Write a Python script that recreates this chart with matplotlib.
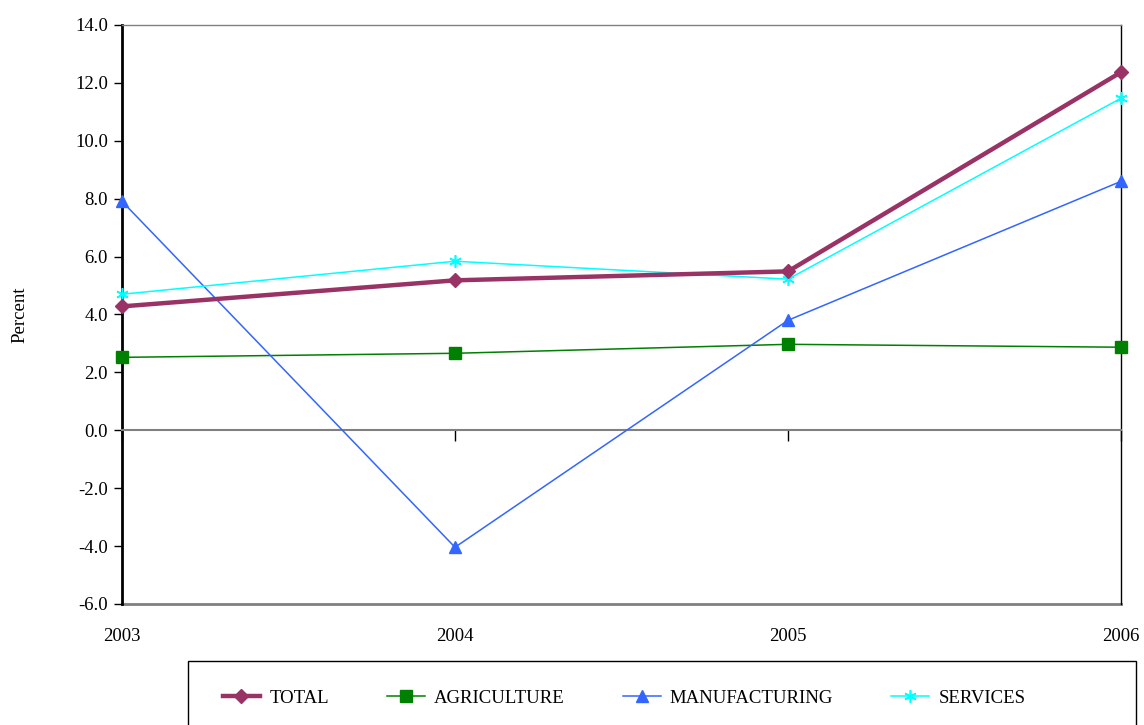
import matplotlib
matplotlib.use("Agg")
import matplotlib.pyplot as plt
from matplotlib.patches import Rectangle
from matplotlib.ticker import FormatStrFormatter

plt.rcParams['font.family'] = ['Liberation Serif', 'DejaVu Serif']
plt.rcParams['axes.unicode_minus'] = False

years = ['2003', '2004', '2005', '2006']
total = [4.28, 5.18, 5.49, 12.37]
agriculture = [2.52, 2.66, 2.97, 2.87]
manufacturing = [7.91, -4.04, 3.80, 8.60]
services = [4.70, 5.84, 5.22, 11.47]
yticks = [-6.0, -4.0, -2.0, 0.0, 2.0, 4.0, 6.0, 8.0, 10.0, 12.0, 14.0]

fig = plt.figure(figsize=(11.44, 7.25), dpi=100)
ax = fig.add_axes([122 / 1144, 1 - 604 / 725, (1121 - 122) / 1144, (604 - 25) / 725])

x = list(range(len(years)))
ax.plot(x, total, color='#993366', lw=3.2, marker='D', ms=7, label='TOTAL',
        zorder=5, clip_on=False)
ax.plot(x, agriculture, color='#008000', lw=1.1, marker='s', ms=8, label='AGRICULTURE',
        zorder=4, clip_on=False)
ax.plot(x, manufacturing, color='#3366FF', lw=1.1, marker='^', ms=8, label='MANUFACTURING',
        zorder=4, clip_on=False)
ax.plot(x, services, color='#00FFFF', lw=1.1, marker=(6, 2, 0), ms=9, mew=1.2,
        label='SERVICES', zorder=4, clip_on=False)

ax.set_xlim(0, 3)
ax.set_ylim(-6, 14)
ax.set_yticks(yticks)
ax.yaxis.set_major_formatter(FormatStrFormatter('%.1f'))
ax.tick_params(axis='y', direction='out', length=6, width=1, labelsize=13.5, pad=4)
ax.set_ylabel('Percent', fontsize=13.5, labelpad=34)

# x axis crossing at zero, with tick marks only
ax.spines['bottom'].set_position(('data', 0))
ax.spines['bottom'].set_color('#808080')
ax.spines['bottom'].set_linewidth(1.5)
ax.set_xticks(x)
ax.tick_params(axis='x', direction='out', length=8, width=1, labelbottom=False)

ax.spines['left'].set_color('black')
ax.spines['left'].set_linewidth(2)
ax.spines['right'].set_color('black')
ax.spines['right'].set_linewidth(1)
ax.spines['top'].set_color('#808080')
ax.spines['top'].set_linewidth(1)

# category labels at the bottom of the plot area
sec = ax.secondary_xaxis('bottom')
sec.set_xticks(x)
sec.set_xticklabels(years)
sec.tick_params(length=0, labelsize=13.5, pad=17)
sec.spines['bottom'].set_color('#808080')
sec.spines['bottom'].set_linewidth(2)

# legend box
fig.patches.append(Rectangle((188 / 1144, -0.05), (1136 - 188) / 1144, 0.05 + 64 / 725,
                             transform=fig.transFigure, facecolor='white',
                             edgecolor='black', lw=1))
handles, labels = ax.get_legend_handles_labels()
fig.legend(handles, labels, loc='center', bbox_to_anchor=(624 / 1144, 1 - 698 / 725),
           ncol=4, frameon=False, fontsize=13.5, handlelength=2.0, columnspacing=3.1,
           handletextpad=0.5)

fig.savefig('out.png', dpi=100)
